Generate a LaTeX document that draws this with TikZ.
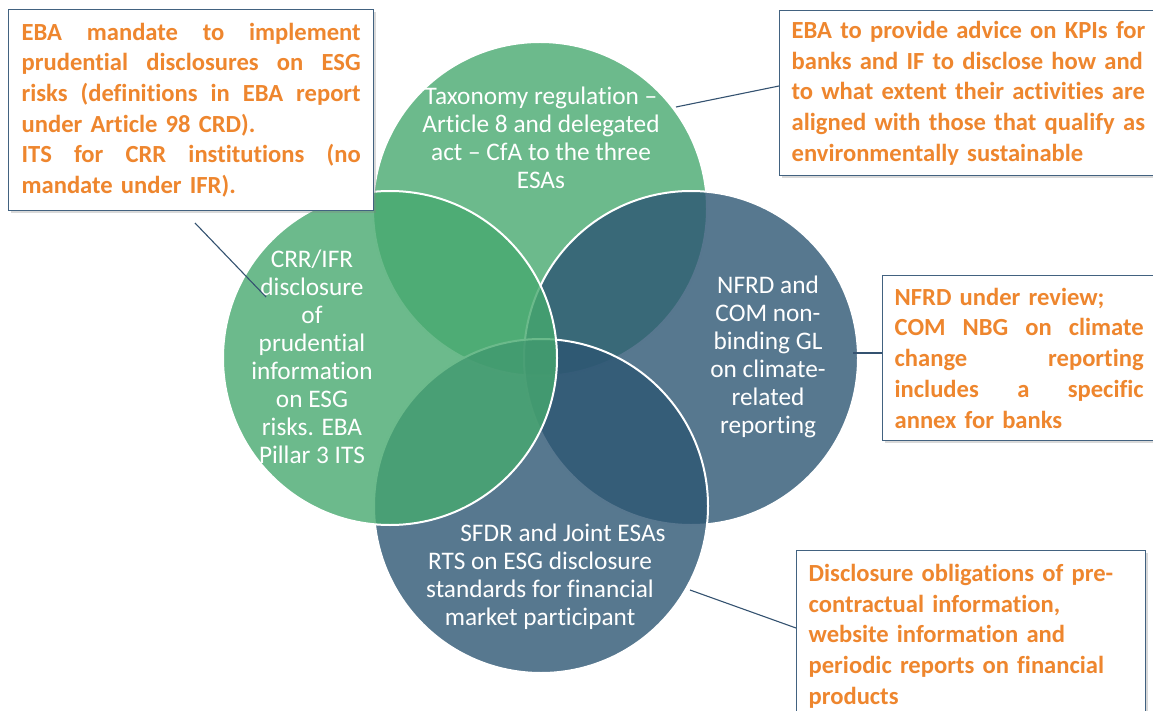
\documentclass[tikz,border=0pt]{standalone}
\usepackage{fontspec}
\setmainfont{Carlito}[Ligatures=NoCommon]
\usetikzlibrary{shadows}
\definecolor{vgreen}{RGB}{71,169,111}
\definecolor{vblue}{RGB}{45,86,115}
\definecolor{boxline}{RGB}{66,98,128}
\definecolor{orangetxt}{RGB}{238,134,46}
\definecolor{conn}{RGB}{52,82,112}
\newcommand{\jline}[2]{\leavevmode\hbox to #1{\spaceskip=\fontdimen2\font plus 1fil\relax #2}}
\begin{document}
\begin{tikzpicture}[x=1pt,y=-1pt,
  venn/.style={circle, minimum size=334pt, inner sep=0pt, fill opacity=0.8, draw=white, line width=2pt},
  circtext/.style={text=white, align=center, font=\fontsize{25.3}{28}\selectfont, inner sep=0pt},
  callout/.style={draw=boxline, line width=1.3pt, fill=white, anchor=north west,
    inner xsep=12pt, inner ysep=0pt, text=orangetxt,
    font=\bfseries\fontsize{24.6}{30.7}\selectfont, align=left,
    drop shadow={shadow xshift=2pt,shadow yshift=-2.5pt,opacity=0.3}},
  link/.style={draw=conn, line width=1.1pt}]
\useasboundingbox (0,0) rectangle (1153,711);
% circles (drawing order: top, right, bottom, left)
\node[venn, fill=vgreen] (ctop) at (540,209) {};
\node[venn, fill=vblue] (cright) at (691,358) {};
\node[venn, fill=vblue] (cbottom) at (541,506) {};
\node[venn, fill=vgreen] (cleft) at (390,358) {};
% circle texts
\node[circtext] (ttop) at (541,138) {Taxonomy regulation --\\Article 8 and delegated\\act -- CfA to the three\\ESAs};
\node[circtext] (tleft) at (312,357) {CRR/IFR\\disclosure\\of\\prudential\\information\\on ESG\\risks. EBA\\Pillar 3 ITS};
\node[circtext] (tright) at (768,357) {NFRD and\\COM non-\\binding GL\\on climate-\\related\\reporting};
\node[circtext] (tbottom) at (540,577) {\hspace*{46pt}SFDR and Joint ESAs\\RTS on ESG disclosure\\standards for financial\\market participant};
% connector end points
\coordinate (pl1) at (195,223);
\coordinate (pl2) at (266,297);
\coordinate (ptr) at (676,107);
\coordinate (pr) at (853,353);
\coordinate (pb) at (690,590);
% boxes
\node[callout, text width=339pt, inner xsep=13pt, minimum height=201pt] (bleft) at (8,9)
 {\jline{339pt}{EBA mandate to implement}\\
  \jline{339pt}{prudential disclosures on ESG}\\
  \jline{339pt}{risks (definitions in EBA report}\\
  under Article 98 CRD).\\
  \jline{339pt}{ITS for CRR institutions (no}\\
  mandate under IFR).};
\node[callout, text width=370pt, minimum height=165pt] (btr) at (779,10)
 {EBA to provide advice on KPIs for\\
  banks and IF to disclose how and\\
  to what extent their activities are\\
  aligned with those that qualify as\\
  environmentally sustainable};
\node[callout, text width=249pt, minimum height=165pt] (bright) at (882,275)
 {NFRD under review;\\
  \jline{249pt}{COM NBG on climate}\\
  \jline{249pt}{change reporting}\\
  \jline{249pt}{includes a specific}\\
  annex for banks};
\node[callout, text width=325pt, minimum height=171pt] (bbot) at (796,550)
 {Disclosure obligations of pre-\\
  contractual information,\\
  website information and\\
  periodic reports on financial\\
  products};
% connectors
\draw[link] (pl1) -- (pl2);
\draw[link] (ptr) -- ([yshift=-76pt]btr.north west);
\draw[link] (pr) -- (pr -| bright.west);
\draw[link] (pb) -- ([yshift=-78pt]bbot.north west);
\end{tikzpicture}
\end{document}
